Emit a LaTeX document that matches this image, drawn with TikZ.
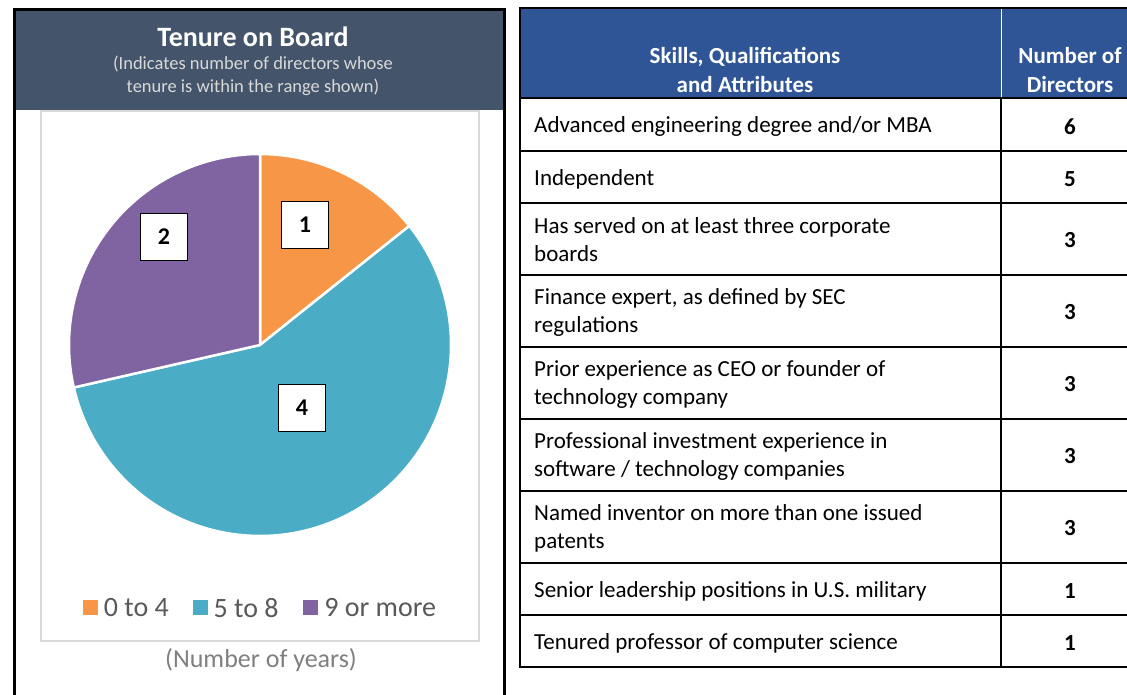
\documentclass[tikz,border=0pt]{standalone}
\usepackage{fontspec}
\setmainfont{Carlito}
\definecolor{tbSlate}{HTML}{44546A}
\definecolor{tbBlue}{HTML}{2F5597}
\definecolor{tbOrange}{HTML}{F79646}
\definecolor{tbTeal}{HTML}{4BACC6}
\definecolor{tbPurple}{HTML}{8064A2}
\definecolor{tbGrid}{HTML}{D9D9D9}
\definecolor{tbMuted}{HTML}{595959}
\definecolor{tbSoft}{HTML}{7F7F7F}
\usepackage{tikz}
\usetikzlibrary{positioning}

\tikzset{
  valbox/.style={draw=black, line width=1.6pt, fill=white, minimum width=47pt, minimum height=47pt,
    inner sep=0pt, font=\fontsize{24}{28}\selectfont\bfseries},
  slice/.style={fill=#1, draw=white, line width=2.5pt, line join=round},
  legbox/.style={fill=#1, minimum size=15pt, inner sep=0pt},
  legtext/.style={text=tbMuted, font=\fontsize{28}{32}\selectfont, inner sep=0pt},
  rowtext/.style={anchor=west, align=left, font=\fontsize{23}{28}\selectfont, inner sep=0pt},
  rownum/.style={font=\fontsize{23}{28}\selectfont\bfseries, inner sep=0pt},
  hdtext/.style={text=white, align=center, font=\fontsize{23}{29}\selectfont\bfseries}
}

\begin{document}
\begin{tikzpicture}[x=1pt, y=1pt]
  \useasboundingbox (0,0) rectangle (1127,695);
  \clip (0,0) rectangle (1127,695);

  % left panel
  \fill[tbSlate] (14,585) rectangle (504,685);
  \draw[line width=3pt] (14,-10) -- (14,685) -- (504,685) -- (504,-10);
  \node[text=white, font=\fontsize{28}{32}\selectfont\bfseries] (title) at (253,658) {Tenure on Board};
  \node[text=tbGrid, align=center, font=\fontsize{18.5}{23}\selectfont] (subtitle) at (253,619)
    {(Indicates number of directors whose\\tenure is within the range shown)};
  \draw[tbGrid, line width=1.5pt] (41,54) rectangle (479,584);

  % pie
  \coordinate (pc) at (260,350);
  \fill[slice=tbOrange] (pc) -- ++(90:191) arc[start angle=90, end angle=38.57, radius=191] -- cycle;
  \fill[slice=tbTeal] (pc) -- ++(38.57:191) arc[start angle=38.57, end angle=-167.14, radius=191] -- cycle;
  \fill[slice=tbPurple] (pc) -- ++(192.86:191) arc[start angle=192.86, end angle=90, radius=191] -- cycle;
  \node[valbox] (val1) at (305,470) {1};
  \node[valbox] (val2) at (164,458) {2};
  \node[valbox] (val4) at (302,287) {4};

  % legend
  \node[legbox=tbOrange] (legA) at (90,87) {};
  \node[legtext, right=6pt of legA] (legAtxt) {0 to 4};
  \node[legbox=tbTeal, right=24pt of legAtxt] (legB) {};
  \node[legtext, right=5pt of legB] (legBtxt) {5 to 8};
  \node[legbox=tbPurple, right=24pt of legBtxt] (legC) {};
  \node[legtext, right=6pt of legC] (legCtxt) {9 or more};
  \node[text=tbSoft, font=\fontsize{26}{30}\selectfont] (years) at (261,35) {(Number of years)};

  % skills table
  \fill[tbBlue] (520,597) rectangle (1150,687);
  \draw[white, line width=1pt] (1001,687) -- (1001,597);
  \node[hdtext] (hdskill) at (745,625) {Skills, Qualifications\\and Attributes};
  \node[hdtext] (hdcount) at (1070,625) {Number of\\Directors};
  \foreach \y in {544,492,420,348,276,204,132,80}
    \draw[line width=1.5pt] (520,\y) -- (1150,\y);
  \draw[line width=1.5pt] (1001,597) -- (1001,28);
  \draw[line width=2pt] (520,597) -- (1150,597);
  \draw[line width=2pt] (1150,687) -- (520,687) -- (520,28) -- (1150,28);
  \foreach \i/\ym/\txt/\num in {
      1/568.5/{Advanced engineering degree and/or MBA}/6,
      2/516/{Independent}/5,
      3/455/{Has served on at least three corporate\\boards}/3,
      4/383/{Finance expert, as defined by SEC\\regulations}/3,
      5/311/{Prior experience as CEO or founder of\\technology company}/3,
      6/239/{Professional investment experience in\\software / technology companies}/3,
      7/167/{Named inventor on more than one issued\\patents}/3,
      8/104/{Senior leadership positions in U.S. military}/1,
      9/52/{Tenured professor of computer science}/1} {
    \node[rowtext] (txt\i) at (534,\ym) {\txt};
    \node[rownum] (num\i) at (1070,\ym) {\num};
  }
\end{tikzpicture}
\end{document}
